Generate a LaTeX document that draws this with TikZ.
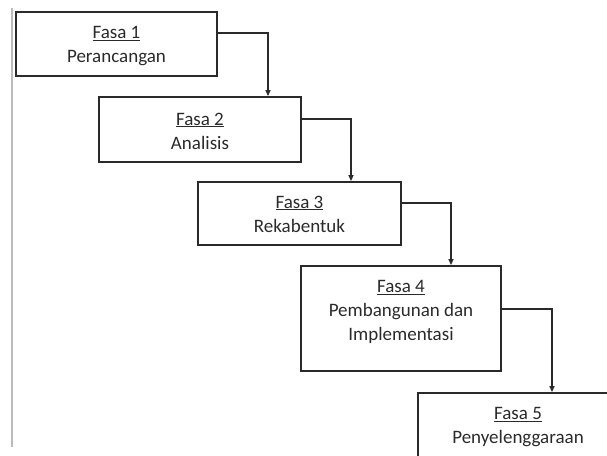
\documentclass[tikz,border=0pt]{standalone}
\usepackage{fontspec}
\setmainfont{Carlito}
\usetikzlibrary{arrows.meta}
\definecolor{ink}{HTML}{2A2A2A}
\definecolor{txt}{HTML}{2A2A2A}
\definecolor{edge}{HTML}{BBBBBB}
\begin{document}
\begin{tikzpicture}[x=1pt,y=-1pt,
  phase/.style={draw=ink, line width=1.8pt, inner sep=0pt, minimum width=200pt},
  lbl/.style={align=center, text=txt, font=\fontsize{19}{24}\selectfont, inner sep=0pt},
  conn/.style={draw=ink, line width=1.3pt, -{Triangle[length=6pt,width=5pt]}}]
\useasboundingbox (0,0) rectangle (607,455);
\clip (0,0) rectangle (607,455);
\draw[edge, line width=1.2pt] (12,8) -- (12,447);
\node[phase, minimum width=201pt, minimum height=64pt] (b1) at (116.5,44) {};
\node[phase, minimum width=202pt, minimum height=65pt] (b2) at (200,129.5) {};
\node[phase, minimum width=203pt, minimum height=63pt] (b3) at (299.5,213.5) {};
\node[phase, minimum width=200pt, minimum height=105pt] (b4) at (401,318.5) {};
\node[phase, minimum width=200pt, minimum height=64pt] (b5) at (518,425) {};
\node[lbl] (t1) at (116.5,46) {\underline{Fasa 1}\\Perancangan};
\node[lbl] (t2) at (200,131) {\underline{Fasa 2}\\Analisis};
\node[lbl] (t3) at (299.5,214) {\underline{Fasa 3}\\Rekabentuk};
\node[lbl] (t4) at (401,312) {\underline{Fasa 4}\\Pembangunan dan\\Implementasi};
\node[lbl] (t5) at (518,427) {\underline{Fasa 5}\\Penyelenggaraan};
\coordinate (a1) at (268,33);
\coordinate (a2) at (351,119);
\coordinate (a3) at (451,203);
\coordinate (a4) at (552,309);
\draw[conn] (b1.east |- a1) -- (a1) -- (a1 |- b2.north);
\draw[conn] (b2.east |- a2) -- (a2) -- (a2 |- b3.north);
\draw[conn] (b3.east |- a3) -- (a3) -- (a3 |- b4.north);
\draw[conn] (b4.east |- a4) -- (a4) -- (a4 |- b5.north);
\end{tikzpicture}
\end{document}
